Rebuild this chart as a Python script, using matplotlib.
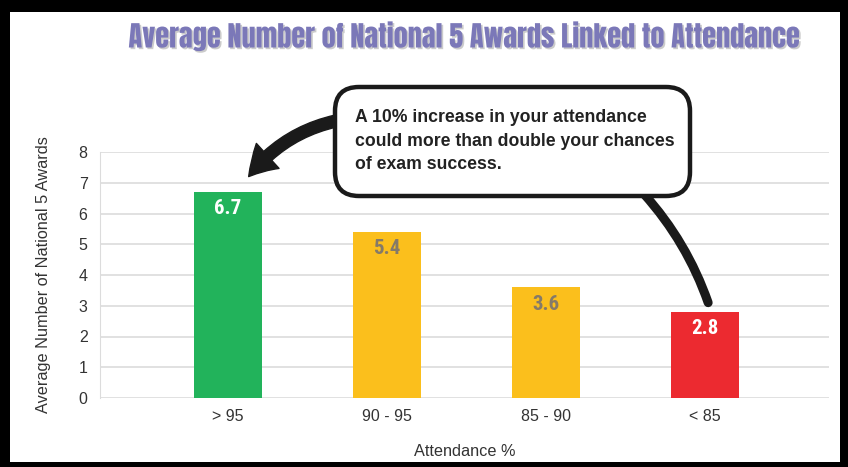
import matplotlib.pyplot as plt
import matplotlib.patheffects as pe
from matplotlib.patches import FancyBboxPatch, FancyArrowPatch, Rectangle

plt.rcParams['font.family'] = ['Liberation Sans', 'DejaVu Sans']

# data
categories = ['> 95', '90 - 95', '85 - 90', '< 85']
values = [6.7, 5.4, 3.6, 2.8]
bar_colors = ['#22b35b', '#fbbf1c', '#fbbf1c', '#ec2a30']
label_colors = ['white', '#857a68', '#857a68', 'white']

title = 'Average Number of National 5 Awards Linked to Attendance'
callout = ('A 10% increase in your attendance\n'
           'could more than double your chances\n'
           'of exam success.')

W, H = 848, 467
fig = plt.figure(figsize=(W / 100, H / 100), dpi=100, facecolor='black')

# white panel inside the black frame
fig.patches.append(Rectangle((10 / W, 5 / H), 830 / W, 450 / H,
                             transform=fig.transFigure, facecolor='white',
                             edgecolor='none', zorder=-5))

ax = fig.add_axes([100 / W, 69 / H, 729 / W, 246 / H])
ax.set_facecolor('white')
ax.bar(range(len(values)), values, width=0.43, color=bar_colors, zorder=3)
ax.set_xlim(-0.805, 3.78)
ax.set_ylim(0, 8)
ax.set_yticks(range(0, 9))
ax.set_xticks(range(len(categories)))
ax.set_xticklabels(categories)
ax.tick_params(length=0, labelsize=11.5, labelcolor='#333333')
ax.tick_params(axis='y', pad=9)
ax.tick_params(axis='x', pad=8)
ax.grid(axis='y', color='#dcdcdc', lw=1.2, zorder=0)
for s in ['top', 'right', 'bottom']:
    ax.spines[s].set_visible(False)
ax.spines['left'].set_color('#dcdcdc')
ax.set_xlabel('Attendance %', fontsize=11.7, color='#333333', labelpad=14)
ax.set_ylabel('Average Number of National 5 Awards', fontsize=11.7,
              color='#333333', labelpad=20)

for i, v in enumerate(values):
    ax.text(i, v - 0.24, f'{v}', ha='center', va='top', fontsize=15,
            fontweight='bold', family='Roboto Condensed',
            color=label_colors[i], zorder=4)

# overlay in pixel coordinates for title and callout
ov = fig.add_axes([0, 0, 1, 1], zorder=5)
ov.set_xlim(0, W)
ov.set_ylim(H, 0)
ov.axis('off')
ov.patch.set_alpha(0)

ov.text(465, 36, title, ha='center', va='center', fontsize=20.4,
        family='Anton', color='#7b78b8',
        path_effects=[pe.withSimplePatchShadow(offset=(1.2, -1.2),
                                               shadow_rgbFace='#999999', alpha=0.5)])

box = FancyBboxPatch((335, 87), 355, 109,
                     boxstyle='round,pad=0,rounding_size=24',
                     facecolor='white', edgecolor='#1a1a1a', lw=3.2, zorder=3)
ov.add_patch(box)
ov.text(355, 141, callout, ha='left', va='center', fontsize=12.7,
        fontweight='bold', color='#222222', linespacing=1.47, zorder=4)

# arrow to the top bar
a1 = FancyArrowPatch(posA=(336, 121), posB=ov.transData.inverted().transform(
                         ax.transData.transform((0.13, 7.2))),
                     arrowstyle='simple,head_length=0.75,head_width=0.9,tail_width=0.32',
                     mutation_scale=27, connectionstyle='arc3,rad=0.18',
                     color='#1a1a1a', zorder=2, shrinkA=0, shrinkB=0)
ov.add_patch(a1)

# tail down to the lowest bar
a2 = FancyArrowPatch(posA=(644, 194), posB=ov.transData.inverted().transform(
                         ax.transData.transform((3.02, 3.1))),
                     arrowstyle='-', lw=6.5, connectionstyle='arc3,rad=-0.1',
                     color='#1a1a1a', zorder=2, shrinkA=0, shrinkB=0)
ov.add_patch(a2)

fig.savefig('out.png', dpi=100, facecolor='black')
